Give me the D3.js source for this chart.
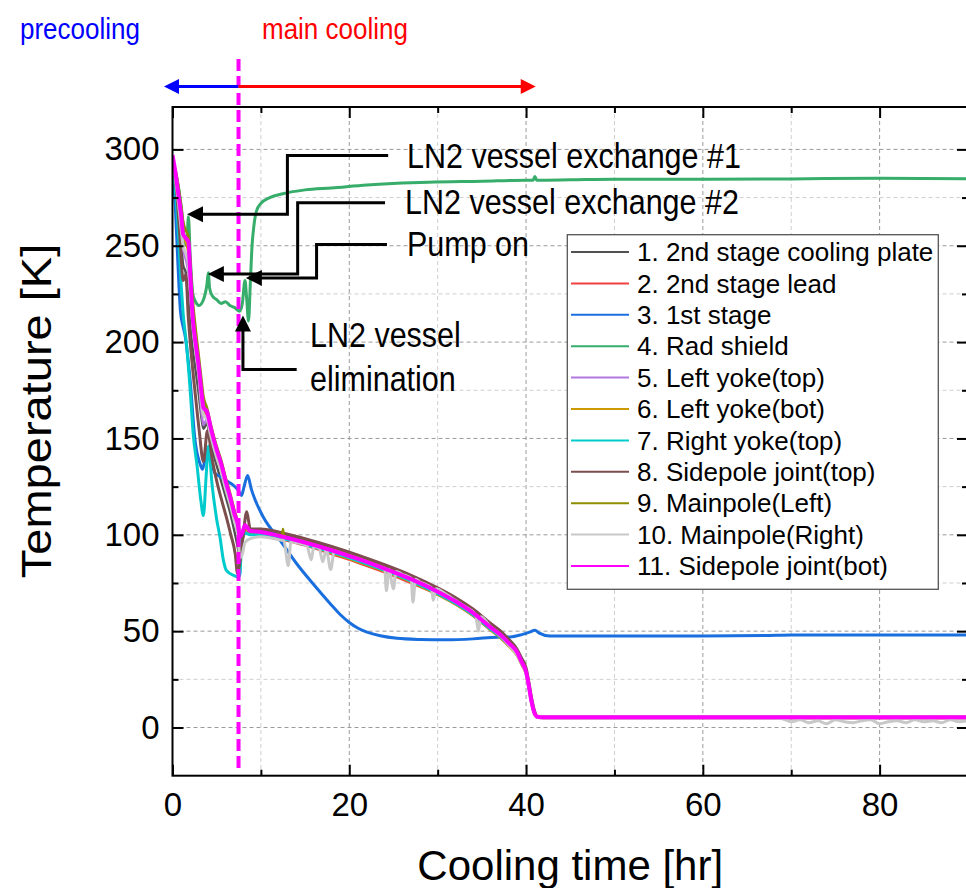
<!DOCTYPE html>
<html><head><meta charset="utf-8">
<script src="https://cdn.jsdelivr.net/npm/d3@7"></script>
<style>body{margin:0;background:#fff;} svg{display:block;font-family:"Liberation Sans",Arial,sans-serif;}</style>
</head><body><svg id="c" width="966" height="888"></svg>
<script>
// ---------------- DATA ----------------
const seriesNames = ["1. 2nd stage cooling plate","2. 2nd stage lead","3. 1st stage","4. Rad shield","5. Left yoke(top)","6. Left yoke(bot)","7. Right yoke(top)","8. Sidepole joint(top)","9. Mainpole(Left)","10. Mainpole(Right)","11. Sidepole joint(bot)"];
const seriesColors = ["#515151","#F14040","#1A6FDF","#37AD6B","#B177DE","#CC9900","#00CBCC","#7D4E4E","#8E8E00","#C8C8C8","#FF00FF"];

const tMain = [0,0.3,0.6,1.0,1.2,1.5,1.8,2.0,2.3,2.6,3.0,3.3,3.5,3.9,4.3,5.0,5.5,6.0,6.5,7.0,7.45,7.6,7.9,8.2,8.8,10,12,15,18,21,24,27,30,32,34,36,37,38,39,39.5,40,40.3,40.6,41,41.3,42,50,60,70,80,90];
const vPlate = [292,282,270,250,240, 236,222,210,196,186, 172,160,155,158,148, 136,128,120,112,102, 92,88,96,103,102, 102,100.5,97,93,88.5, 83.5,78,71.5,66.5,60.5, 53,49.5,45,39.5,35, 30,23,15,7.5,5.3, 5,5,5,5,5, 5];
const vLead = [295,287,276,260,250, 245,238,228,210,199, 184,172,165,162,153, 142,135,126,118,109, 101,96,99,102,100.5, 100,98,94.5,90,85.5, 80.5,75,69,64,58, 50.5,47,42.5,37.5,33, 28,21,13,6.5,5.2, 5,5,5,5,5, 5];
const vYokeLT = [294,285,273,256,248, 243,236,225,208,197, 180,163,157,160,152, 141,134,125,117,108, 100,95,99,103,101, 100.5,99,95.5,91.5,87, 82,76.5,70,65,59, 51.5,48,43.5,38,33.5, 28.5,21.5,13.5,7,5.4, 5.2,5.2,5.2,5.2,5.2, 5.2];
const vYokeLB = [295,288,278,264,257, 252,246,236,216,204, 189,176,168,165,157, 145,138,129,121,112, 104,99,100,103,101, 100.5,98.5,95,90.5,86, 81,75.5,69,64,58, 50.5,47,42.5,37,32.5, 27.5,21,13,6.5,5.3, 5.2,5.2,5.2,5.2,5.2, 5.2];
const vSideJB = [297,289,279,265,256, 254,252,236,212,200, 186,173,166,164,156, 144,137,128,120,111, 104,99,101,105,102, 101.5,99.5,96,92,87.5, 82.5,77,70.5,65.5,59.5, 52,48.5,44,39,34, 29,22,14,7,5.6, 5.3,5.3,5.3,5.3,5.3, 5.3];

const tFS = [0,0.3,0.6,0.9,1.2,1.4,2.0,2.55,3.1,3.4,3.7,4.05,4.4,4.8,5.5,6.1,6.8,7.45,7.8,8.1,8.5,8.9,9.3,10.3,12.2,14.05,15.9,17.8,19.0,20.0,21.0,22.0,23.5,25.4,28,31,34,36.7,38.2,39.5,40.4,41,41.5,42.7,50,60,67,70,80,90];
const vFS = [292,272,242,216,208, 204,180,149,137,134, 140,145.5,138,132,130, 128,126,123,120.4,125, 130.8,124,118.7,109,97, 85,74.6,64.5,58.5,54.5, 51.5,49.5,47.6,46.3,45.7, 45.5,46,46.9,47,48.2, 49.5,50.5,49,47.5,47.5, 47.5,47.7,48,48,48];

const tRS = [0,0.5,1.0,1.4,1.6,1.8,2.0,2.3,2.6,3.0,3.5,3.9,4.05,4.2,4.5,5.0,5.5,6.0,6.5,7.0,7.6,7.9,8.2,8.4,8.6,8.8,9.0,9.2,9.5,10,11,12.5,15,18,22,26,29,35,40,40.8,41,41.2,45,50,60,70,80,90];
const vRS = [294,285,270,252,250, 265,245,225,221,219, 222,230,236,228,224, 222,220,221,219,218, 216,220,232,222,211, 230,250,260,268,272, 275,277,279,280,281.5, 282.5,283,283.5,284,284, 286,284,284.2,284.5,284.5, 284.7,285,284.7];

const tRYT = [0,0.3,0.6,1.0,1.2,1.6,2.0,2.35,2.8,3.2,3.5,3.8,4.05,4.5,5.0,5.4,5.75,6.1,6.9,7.5,7.65,7.8,8.2,8.8,10,12,15,18,21,24,27,30,32,34,36,37,38,39,39.5,40,40.3,40.6,41,41.3,42,90];
const vRYT = [291,280,262,228,215, 198,175,152,135,118, 110,130,146,125,108, 98,87,81.5,79,78, 80,96,101,100,100, 98.5,95,91,86.5,81.5, 76,69.5,64.5,58.5,51, 47.5,43,38,33.5,28.5, 21.5,13.5,7,5.4,5.2, 5.2];

const tSJT = [0,0.3,0.6,0.9,1.2,1.5,1.8,2.2,2.6,3.0,3.5,3.95,4.5,5.0,5.5,6.1,6.6,7.1,7.35,7.6,8.0,8.4,8.8,10,12,15,18,21,24,27,30,32,34,36,37,38,39,39.5,40,40.3,40.6,41,41.3,42,90];
const vSJT = [293,285,270,250,232, 235,212,190,172,155, 138,154,139,128,119, 109,100,90,80,85, 100,112,103,103,101.5, 98,94,89.5,84.5,79, 72.5,67.5,61.5,54,50.5, 46,40.5,36,31,24, 16,8,5.6,5.3,5.3];

const tMPL = [0,0.3,0.6,1.0,1.2,1.5,1.8,2.0,2.3,2.6,3.0,3.3,3.5,3.9,4.3,5.0,5.5,6.0,6.5,7.0,7.45,7.6,7.9,8.2,8.8,10,12,12.4,12.5,12.6,15,18,21,24,27,30,32,34,36,37,38,39,39.5,40,40.3,40.6,41,41.3,42,50,60,70,80,90];
const vMPL = [293,290,283,270,263, 258,255,243,222,208, 192,180,172,166,158, 146,139,130,122,113, 105,100,101,104,102, 101.5,100,99.8,103,99.6, 96.5,92.5,88,83,77.5, 71,66,60,52.5,49, 44.5,39.5,34.5,29.5,22.5, 14.5,7.5,5.6,5.4,5.4, 5.4,5.4,5.4,5.4];

const tMPR = [0,0.3,0.6,1.0,1.2,1.5,1.8,2.0,2.3,2.6,3.0,3.3,3.5,3.9,4.3,5.0,5.5,6.0,6.5,7.0,7.45,7.6,7.9,8.2,8.8,10,11,12,12.6,13.1,13.4,14,15.2,15.7,16.0,16.6,17.0,17.4,17.9,18.3,19,20,21,22,23,24.0,24.2,24.5,25.0,25.3,26,27.0,27.2,27.5,28,29.3,29.5,29.8,31,32,33,34.3,34.6,34.9,36,37,38,39,39.5,40,40.3,40.6,41,41.3,42,50,60,68,69,70,71,72,73,74,75,76,77,78,79,80,81,82,83,84,85,86,87,88,89,90];
const vMPR = [294,286,275,258,250, 246,240,228,208,196, 182,168,162,160,152, 140,133,124,116,107, 98,88,90,96,98, 99,98.5,97.5,97,84, 96.5,96,94.5,87,94, 93,86,92.5,82,91.5, 90.5,89,87.5,86,84, 82.5,71,82,72,81, 79.5,77.5,65,77,75.5, 72.5,66,72,69,66, 63,58.5,50,57.5,52, 48,43,37.5,33,28, 21,13,6.5,5.2,5, 5,5,5, 4.5,3,4,2.5,3.5,2,4,3,2.5,3.5,4,2,3,3.5,2.5,4,3,3.5,2.5,4,3,3.5];

const xMajorTicks = [0,20,40,60,80];
const xMinorTicks = [10,30,50,70,90];
const yMajorTicks = [0,50,100,150,200,250,300];
const yMinorTicks = [25,75,125,175,225,275];
const precoolEnd = 7.47; // hr

// ---------------- CHART ----------------
const svg = d3.select("#c");
const x = d3.scaleLinear().domain([0,90]).range([172.5,968]);
const y = d3.scaleLinear().domain([-25,322]).range([775.7,107]);
const FONT = '"Liberation Sans",Arial,sans-serif';

// grid
const grid = svg.append("g");
grid.selectAll(".vg").data(xMajorTicks.concat(xMinorTicks).filter(d=>d>0&&d<90)).join("line")
  .attr("x1",d=>x(d)).attr("x2",d=>x(d)).attr("y1",y(322)).attr("y2",y(-25))
  .attr("stroke",d=>d%20===0?"#9a9a9a":"#cfcfcf").attr("stroke-width",1).attr("stroke-dasharray","4,3");
grid.selectAll(".hg").data(yMajorTicks.concat(yMinorTicks)).join("line")
  .attr("y1",d=>y(d)).attr("y2",d=>y(d)).attr("x1",x(0)).attr("x2",x(90))
  .attr("stroke",d=>d%50===0?"#9a9a9a":"#cfcfcf").attr("stroke-width",1).attr("stroke-dasharray","4,3");

// series
const series = [
  {t:tMain, v:vPlate}, {t:tMain, v:vLead}, {t:tFS, v:vFS}, {t:tRS, v:vRS},
  {t:tMain, v:vYokeLT}, {t:tMain, v:vYokeLB}, {t:tRYT, v:vRYT}, {t:tSJT, v:vSJT},
  {t:tMPL, v:vMPL}, {t:tMPR, v:vMPR}, {t:tMain, v:vSideJB}
].map((s,i)=>({name:seriesNames[i], color:seriesColors[i], pts:s.t.map((t,j)=>[t,s.v[j]])}));
const widths = [2.5,2.5,3,3,2.5,2.5,3,3,2.5,3,4];

svg.append("clipPath").attr("id","clip").append("rect")
  .attr("x",x(0)).attr("y",y(322)).attr("width",x(90)-x(0)).attr("height",y(-25)-y(322));
const line = d3.line().x(d=>x(d[0])).y(d=>y(d[1])).curve(d3.curveMonotoneX);
svg.append("g").attr("clip-path","url(#clip)").selectAll("path").data(series).join("path")
  .attr("d",d=>line(d.pts)).attr("fill","none").attr("stroke",d=>d.color)
  .attr("stroke-width",(d,i)=>widths[i]).attr("stroke-linejoin","round");

// frame
svg.append("rect").attr("x",x(0)).attr("y",y(322)).attr("width",x(90)-x(0)).attr("height",y(-25)-y(322))
  .attr("fill","none").attr("stroke","#000").attr("stroke-width",2);

function styleAxis(g, size){
  g.select(".domain").remove();
  g.selectAll("line").attr("stroke","#000").attr("stroke-width",2);
  g.attr("font-family",FONT).attr("font-size",size);
  g.selectAll("text").attr("fill","#000");
}
// bottom
svg.append("g").attr("transform",`translate(0,${y(-25)})`)
  .call(d3.axisBottom(x).tickValues(xMajorTicks).tickSize(-11).tickPadding(17).tickFormat(d3.format("d")))
  .call(g=>styleAxis(g,33));
svg.append("g").attr("transform",`translate(0,${y(-25)})`)
  .call(d3.axisBottom(x).tickValues(xMinorTicks).tickSize(-6).tickFormat(""))
  .call(g=>styleAxis(g,33));
// top
svg.append("g").attr("transform",`translate(0,${y(322)})`)
  .call(d3.axisTop(x).tickValues(xMajorTicks).tickSize(-11).tickFormat(""))
  .call(g=>styleAxis(g,33));
svg.append("g").attr("transform",`translate(0,${y(322)})`)
  .call(d3.axisTop(x).tickValues(xMinorTicks).tickSize(-6).tickFormat(""))
  .call(g=>styleAxis(g,33));
// left
svg.append("g").attr("transform",`translate(${x(0)},0)`)
  .call(d3.axisLeft(y).tickValues(yMajorTicks).tickSize(-11).tickPadding(13).tickFormat(d3.format("d")))
  .call(g=>styleAxis(g,33));
svg.append("g").attr("transform",`translate(${x(0)},0)`)
  .call(d3.axisLeft(y).tickValues(yMinorTicks).tickSize(-6).tickFormat(""))
  .call(g=>styleAxis(g,33));
// right
svg.append("g").attr("transform",`translate(${x(90)},0)`)
  .call(d3.axisRight(y).tickValues(yMajorTicks).tickSize(-11).tickFormat(""))
  .call(g=>styleAxis(g,33));
svg.append("g").attr("transform",`translate(${x(90)},0)`)
  .call(d3.axisRight(y).tickValues(yMinorTicks).tickSize(-6).tickFormat(""))
  .call(g=>styleAxis(g,33));

// axis titles
svg.append("text").attr("x",(x(0)+x(90))/2).attr("y",880).attr("text-anchor","middle")
  .attr("font-size",42).attr("fill","#000").text("Cooling time [hr]");
svg.append("text").attr("transform","translate(51,411) rotate(-90) scale(1.12,1)").attr("text-anchor","middle")
  .attr("font-size",42).attr("fill","#000").text("Temperature [K]");

// precooling / main cooling divider
svg.append("line").attr("x1",x(precoolEnd)).attr("x2",x(precoolEnd)).attr("y1",59).attr("y2",770)
  .attr("stroke","#FF00FF").attr("stroke-width",4).attr("stroke-dasharray","12,5");

function arrowHead(tipX,tipY,dir,len,half,color){
  let p;
  if(dir==='l') p=[[tipX,tipY],[tipX+len,tipY-half],[tipX+len,tipY+half]];
  else if(dir==='r') p=[[tipX,tipY],[tipX-len,tipY-half],[tipX-len,tipY+half]];
  else p=[[tipX,tipY],[tipX-half,tipY+len],[tipX+half,tipY+len]];
  svg.append("path").attr("d","M"+p.map(q=>q.join(",")).join("L")+"Z").attr("fill",color);
}
// top arrows
const arrowY = 86.5;
svg.append("line").attr("x1",x(precoolEnd)).attr("x2",x(-0.96)+12).attr("y1",arrowY).attr("y2",arrowY).attr("stroke","#0000FF").attr("stroke-width",3);
arrowHead(x(-0.96),arrowY,'l',15,7.5,"#0000FF");
svg.append("line").attr("x1",x(precoolEnd)).attr("x2",x(41.1)-12).attr("y1",arrowY).attr("y2",arrowY).attr("stroke","#FF0000").attr("stroke-width",3);
arrowHead(x(41.1),arrowY,'r',15,7.5,"#FF0000");

function stretchText(txt,px,py,size,sy,color,anchor){
  svg.append("text").attr("transform",`translate(${px},${py}) scale(1,${sy})`)
    .attr("font-size",size).attr("fill",color).attr("text-anchor",anchor||"start").text(txt);
}
stretchText("precooling",20,39,26,1.15,"#0000FF");
stretchText("main cooling",262,39,26,1.15,"#FF0000");

// annotations (elbow arrows) in data coordinates
const annos = [
  {pts:[[24.4,296.8],[13.0,296.8],[13.0,266.4],[1.64,266.4]], dir:'l'},
  {pts:[[24.04,272.3],[14.16,272.3],[14.16,235.4],[4.0,235.4]], dir:'l'},
  {pts:[[24.26,250.6],[16.3,250.6],[16.3,233.3],[8.3,233.3]], dir:'l'},
  {pts:[[14.05,185.8],[7.97,185.8],[7.97,213.8]], dir:'u'}
];
annos.forEach(a=>{
  const px = a.pts.map(p=>[x(p[0]),y(p[1])]);
  const tip = px[px.length-1];
  const last = px.slice();
  if(a.dir==='l') last[last.length-1]=[tip[0]+14,tip[1]];
  else last[last.length-1]=[tip[0],tip[1]+14];
  svg.append("path").attr("d","M"+last.map(q=>q.join(",")).join("L")).attr("fill","none")
    .attr("stroke","#000").attr("stroke-width",3);
  arrowHead(tip[0],tip[1],a.dir,16,8,"#000");
});
stretchText("LN2 vessel exchange #1",407,168,30.5,1.13,"#000");
stretchText("LN2 vessel exchange #2",405,214,30.5,1.13,"#000");
stretchText("Pump on",407,256,30.5,1.13,"#000");
stretchText("LN2 vessel",310,347,30.5,1.13,"#000");
stretchText("elimination",310,391,30.5,1.13,"#000");

// legend
const lg = svg.append("g");
lg.append("rect").attr("x",567.3).attr("y",234.7).attr("width",371).attr("height",354.6)
  .attr("fill","#fff").attr("stroke","#555").attr("stroke-width",1.3);
const rows = lg.selectAll(".row").data(series).join("g").attr("transform",(d,i)=>`translate(0,${252+i*31.4})`);
rows.append("line").attr("x1",571).attr("x2",629).attr("stroke",d=>d.color).attr("stroke-width",2);
rows.append("text").attr("x",637).attr("dy","0.35em").attr("font-size",26).attr("fill","#000").text(d=>d.name);
</script></body></html>
